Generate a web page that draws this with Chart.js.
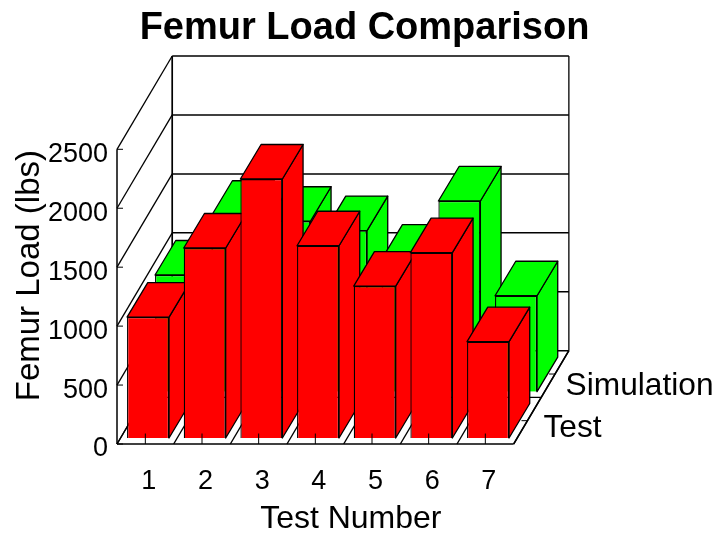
<!DOCTYPE html>
<html>
<head>
<meta charset="utf-8">
<style>html,body{margin:0;padding:0;background:#fff}canvas{display:block}</style>
<script src="https://cdn.jsdelivr.net/npm/chart.js@4"></script>
</head>
<body>
<canvas id="c" width="716" height="533"></canvas>
<script>
const categories = ['1','2','3','4','5','6','7'];
const testValues = [1026,1612,2197,1631,1289,1572,817];
const simulationValues = [990,1497,1446,1367,1124,1618,814];
const depthLabels = ['Test','Simulation'];
const yTickStep = 500;

const FONT = '"Liberation Sans", Arial, sans-serif';
const DEPTH = {x:55.2, y:-93.3};          // full depth of the 3D box
const ROW = [{x:2.7,y:-6},{x:30.7,y:-52.3}]; // offset of each depth row
const BAR_DEPTH = {x:20.7, y:-34.5};      // depth of one bar
const EDGE = 1.3;

function line(ctx,x1,y1,x2,y2,w){
  ctx.lineWidth=w||1;ctx.strokeStyle='#000';
  ctx.beginPath();ctx.moveTo(x1,y1);ctx.lineTo(x2,y2);ctx.stroke();
}
function poly(ctx,pts,fill){
  ctx.beginPath();pts.forEach((p,i)=>i?ctx.lineTo(p[0],p[1]):ctx.moveTo(p[0],p[1]));ctx.closePath();
  ctx.fillStyle=fill;ctx.fill();ctx.lineWidth=EDGE;ctx.strokeStyle='#000';ctx.lineJoin='round';ctx.stroke();
}
function shiftTitle(scale,dx,dy){
  if(scale._shifted)return;scale._shifted=true;
  const orig=scale.drawTitle;
  scale.drawTitle=function(){const c=this.ctx;c.save();c.translate(dx,dy);orig.apply(this,arguments);c.restore();};
}

const box3d = {
  id:'box3d',
  afterLayout(chart){
    if(chart.titleBlock){chart.titleBlock.left=13;chart.titleBlock.right=716;}
    shiftTitle(chart.scales.x,35.5,5);
    shiftTitle(chart.scales.y,10,-21);
  },
  beforeDatasetsDraw(chart){
    const {ctx,chartArea:a,scales:{x,y}}=chart;
    ctx.save();
    // walls
    y.ticks.forEach((t,i)=>{
      const py=y.getPixelForTick(i);
      line(ctx,a.left,py,a.left+DEPTH.x,py+DEPTH.y,1.3);
      line(ctx,a.left+DEPTH.x,py+DEPTH.y,a.right+DEPTH.x,py+DEPTH.y,1.5);
    });
    line(ctx,a.left,a.top,a.left,a.bottom,1.5);
    line(ctx,a.left+DEPTH.x,a.top+DEPTH.y,a.left+DEPTH.x,a.bottom+DEPTH.y,1.7);
    line(ctx,a.right+DEPTH.x,a.top+DEPTH.y,a.right+DEPTH.x,a.bottom+DEPTH.y,1.3);
    // floor
    const step=(a.right-a.left)/categories.length;
    for(let i=0;i<=categories.length;i++){
      const fx=a.left+i*step;
      line(ctx,fx,a.bottom,fx+DEPTH.x,a.bottom+DEPTH.y,1.4);
    }
    line(ctx,a.left+DEPTH.x/2,a.bottom+DEPTH.y/2,a.right+DEPTH.x/2,a.bottom+DEPTH.y/2,1.2);
    line(ctx,a.left,a.bottom,a.right,a.bottom,1.5);
    ctx.restore();
  },
  beforeDatasetDraw(chart,args){
    const ctx=chart.ctx,r=ROW[args.index],d=BAR_DEPTH;
    ctx.save();
    ctx.translate(r.x,r.y);
    const col=chart.data.datasets[args.index].backgroundColor;
    args.meta.data.forEach(b=>{
      const l=b.x-b.width/2,R=b.x+b.width/2,t=b.y,bt=b.base;
      poly(ctx,[[R,bt],[R+d.x,bt+d.y],[R+d.x,t+d.y],[R,t]],col);
      poly(ctx,[[l,t],[l+d.x,t+d.y],[R+d.x,t+d.y],[R,t]],col);
    });
  },
  afterDatasetDraw(chart){chart.ctx.restore();},
  afterDatasetsDraw(chart){
    const {ctx,chartArea:a,scales:{x,y}}=chart;
    ctx.save();
    x.ticks.forEach((t,i)=>{const px=x.getPixelForTick(i);line(ctx,px,a.bottom,px,a.bottom-10.5,1);});
    y.ticks.forEach((t,i)=>{const py=y.getPixelForTick(i);line(ctx,a.left,py,a.left+6,py,1);});
    // depth axis
    [0.25,0.75].forEach(f=>{
      const ex=a.right+DEPTH.x*f,ey=a.bottom+DEPTH.y*f;
      line(ctx,ex-6,ey,ex,ey,1);
    });
    line(ctx,a.right,a.bottom,a.right+DEPTH.x,a.bottom+DEPTH.y,1.5);
    ctx.fillStyle='#000';ctx.font='31.7px '+FONT;ctx.textAlign='left';ctx.textBaseline='middle';
    ctx.fillText(depthLabels[0],a.right+DEPTH.x*0.25+16,a.bottom+DEPTH.y*0.25+8);
    ctx.fillText(depthLabels[1],a.right+DEPTH.x*0.75+10.5,a.bottom+DEPTH.y*0.75+12);
    ctx.restore();
  }
};

new Chart(document.getElementById('c'),{
  type:'bar',
  data:{labels:categories,datasets:[
    {label:depthLabels[0],data:testValues,backgroundColor:'#ff0000',borderColor:'#000',borderWidth:EDGE},
    {label:depthLabels[1],data:simulationValues,backgroundColor:'#00ff00',borderColor:'#000',borderWidth:EDGE}
  ]},
  options:{
    responsive:false,animation:false,
    devicePixelRatio:1,
    layout:{padding:{left:0,right:202.33,top:0,bottom:0}},
    datasets:{bar:{grouped:false,categoryPercentage:1,barPercentage:0.741}},
    plugins:{
      legend:{display:false},tooltip:{enabled:false},
      title:{display:true,text:'Femur Load Comparison',color:'#000',
        font:{family:FONT,size:38,weight:'bold',lineHeight:1.2},
        padding:{top:6,bottom:97.7}}
    },
    scales:{
      x:{
        grid:{display:false,drawTicks:false},border:{display:false},
        ticks:{color:'#000',font:{family:FONT,size:27},padding:21,labelOffset:3.5,maxRotation:0,autoSkip:false},
        title:{display:true,text:'Test Number',color:'#000',font:{family:FONT,size:32},padding:{top:4,bottom:0}},
        afterFit(s){s.height=89;}
      },
      y:{
        min:0,max:2500,
        grid:{display:false,drawTicks:false},border:{display:false},
        ticks:{color:'#000',font:{family:FONT,size:27},padding:9,stepSize:yTickStep,labelOffset:5,
          callback:v=>String(v)},
        title:{display:true,text:'Femur Load (lbs)',color:'#000',font:{family:FONT,size:33},padding:{top:0,bottom:0}},
        afterFit(s){s.width=117;}
      }
    }
  },
  plugins:[box3d]
});
</script>
</body>
</html>
